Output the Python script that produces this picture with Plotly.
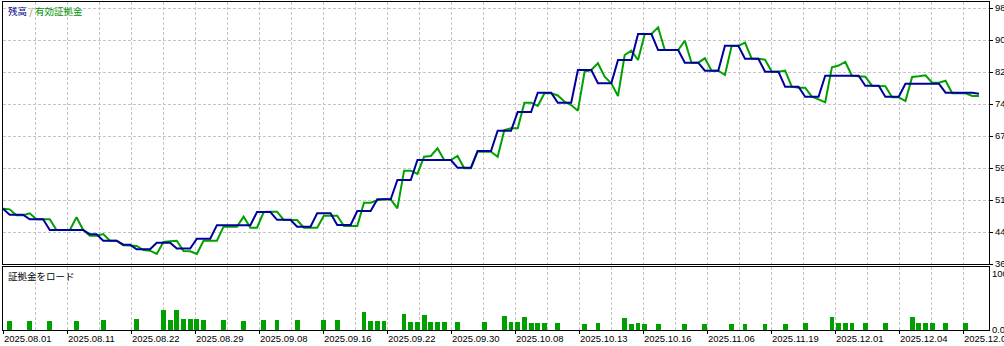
import plotly.graph_objects as go

# ---------------- data ----------------
balance = [
    4976, 4831, 4831, 4831, 4721, 4721, 4721, 4463, 4463, 4463,
    4463, 4463, 4463, 4360, 4360, 4206, 4206, 4206, 4110, 4110,
    3999, 3999, 3999, 4158, 4158, 4158, 4015, 4015, 4015, 4254,
    4254, 4254, 4580, 4580, 4580, 4580, 4580, 4580, 4896, 4896,
    4896, 4708, 4708, 4708, 4543, 4543, 4543, 4865, 4865, 4865,
    4583, 4583, 4583, 4920, 4920, 4920, 5202, 5202, 5202, 5666,
    5666, 5666, 6147, 6147, 6147, 6147, 6147, 6147, 5962, 5962,
    5962, 6364, 6364, 6364, 6853, 6853, 6853, 7302, 7302, 7302,
    7767, 7767, 7767, 7526, 7526, 7526, 8313, 8313, 8313, 7993,
    7993, 7993, 8554, 8554, 8554, 9179, 9179, 9179, 8794, 8794,
    8794, 8794, 8489, 8489, 8489, 8296, 8296, 8296, 8898, 8898,
    8898, 8585, 8585, 8585, 8272, 8272, 8272, 7911, 7911, 7911,
    7671, 7671, 7671, 8176, 8176, 8176, 8176, 8176, 8176, 7935,
    7935, 7935, 7671, 7671, 7671, 7983, 7983, 7983, 7983, 7983,
    7983, 7767, 7767, 7767, 7767, 7767, 7743,
]

equity = [
    4976, 4960, 4817, 4817, 4865, 4721, 4721, 4721, 4463, 4463,
    4463, 4769, 4463, 4326, 4326, 4367, 4206, 4206, 4095, 4090,
    4078, 3982, 3965, 3886, 4174, 4191, 4206, 3958, 3951, 3886,
    4206, 4206, 4206, 4543, 4543, 4543, 4783, 4518, 4518, 4896,
    4900, 4904, 4704, 4704, 4704, 4518, 4518, 4518, 4807, 4807,
    4807, 4559, 4559, 4559, 5120, 5120, 5180, 5202, 5202, 4985,
    5890, 5890, 5811, 6227, 6244, 6429, 6147, 6147, 6244, 5948,
    5948, 6347, 6347, 6347, 6227, 6869, 6910, 6910, 7526, 7526,
    7447, 7752, 7752, 7700, 7551, 7471, 7334, 8272, 8313, 8474,
    8152, 7993, 7688, 8674, 8778, 8554, 9179, 9179, 9340, 8794,
    8794, 8794, 9018, 8489, 8489, 8595, 8296, 8296, 8193, 8891,
    8891, 8970, 8585, 8585, 8560, 8272, 8272, 8296, 7911, 7887,
    7887, 7671, 7608, 7536, 8378, 8420, 8506, 8176, 8160, 8152,
    7935, 7935, 7920, 7656, 7656, 7567, 8145, 8160, 8186, 8007,
    8007, 8056, 7752, 7752, 7752, 7688, 7688,
]

load_idx = [1, 4, 7, 11, 15, 20, 24, 25, 26, 27, 28, 29, 30, 33, 36, 39, 41, 44,
            48, 50, 54, 55, 56, 57, 60, 61, 62, 63, 64, 65, 66, 68, 72, 75, 76,
            77, 78, 79, 80, 81, 83, 87, 89, 93, 94, 95, 96, 98, 102, 105, 109,
            111, 114, 117, 120, 124, 125, 126, 127, 129, 132, 136, 137, 138,
            139, 141, 144]
load_val = [16, 16, 16, 16, 17.5, 19.5, 35.5, 17.5, 35.5, 19.5, 19.5, 19.5, 17.5,
            17.5, 16, 17.5, 17.5, 17.5, 17.5, 17.5, 32, 16, 16, 16, 28.5, 14.5,
            14.5, 27, 14.5, 14.5, 14.5, 14.5, 14.5, 25, 14.5, 14.5, 23, 12.5,
            12.5, 12.5, 12.5, 10.5, 12.5, 21, 10.5, 12.5, 10.5, 10.5, 10.5, 10.5,
            10.5, 10.5, 10.5, 10.5, 12.5, 23, 12.5, 12.5, 12.5, 12.5, 12.5, 23,
            12.5, 12.5, 12.5, 12.5, 12.5]

y_tick_vals = [3645, 4415, 5185, 5955, 6725, 7495, 8265, 9035, 9805]
load_tick_vals = [0, 100]
load_tick_text = ["0.00", "100.00"]
date_labels = ["2025.08.01", "2025.08.11", "2025.08.22", "2025.08.29",
               "2025.09.08", "2025.09.16", "2025.09.22", "2025.09.30",
               "2025.10.08", "2025.10.13", "2025.10.16", "2025.11.06",
               "2025.11.19", "2025.12.01", "2025.12.04", "2025.12.08"]

# ---------------- layout geometry ----------------
W, H = 1004, 346
PX_LEFT, PX_RIGHT = 3, 989
MAIN_TOP, MAIN_BOT = 2, 264
SUB_TOP, SUB_BOT = 267, 330
X_MAX = 147.5
GRID_PX = 32
grid_step = X_MAX * GRID_PX / (PX_RIGHT - PX_LEFT)

BLUE = "#00009c"
GREEN = "#00a000"
GRID = "#c4c4c4"
FONT = "Liberation Sans"

idx = list(range(len(balance)))

fig = go.Figure()
fig.add_trace(go.Scatter(x=idx, y=equity, mode="lines",
                         line=dict(color=GREEN, width=2), xaxis="x", yaxis="y",
                         hoverinfo="skip"))
fig.add_trace(go.Scatter(x=idx, y=balance, mode="lines",
                         line=dict(color=BLUE, width=2), xaxis="x", yaxis="y",
                         hoverinfo="skip"))
fig.add_trace(go.Bar(x=load_idx, y=load_val, width=0.72,
                     marker=dict(color=GREEN, line=dict(width=0)),
                     xaxis="x2", yaxis="y2", hoverinfo="skip"))

label_pos = [i * 2 * grid_step for i in range(len(date_labels))]

axis_common = dict(showline=True, linecolor="black", linewidth=1, mirror=True,
                   zeroline=False, automargin=False)

fig.update_layout(
    width=W, height=H,
    margin=dict(l=0, r=0, t=0, b=0),
    paper_bgcolor="white", plot_bgcolor="white",
    showlegend=False,
    bargap=0,
    font=dict(family=FONT, size=9.5, color="black"),
    xaxis=dict(domain=[PX_LEFT / W, PX_RIGHT / W], range=[0, X_MAX],
               anchor="y", showticklabels=False, ticks="",
               tickmode="linear", tick0=0, dtick=grid_step,
               showgrid=True, gridcolor=GRID, griddash="3px,2px", gridwidth=1,
               **axis_common),
    yaxis=dict(domain=[(H - MAIN_BOT) / H, (H - MAIN_TOP) / H],
               range=[3645, 3645 + (MAIN_BOT - MAIN_TOP) * 770 / 32],
               anchor="x", side="right",
               tickmode="array", tickvals=y_tick_vals,
               ticktext=[str(v) for v in y_tick_vals],
               ticks="outside", ticklen=3, tickcolor="black",
               showgrid=True, gridcolor=GRID, griddash="3px,2px", gridwidth=1,
               tickfont=dict(family=FONT, size=9.5, color="black"),
               **axis_common),
    xaxis2=dict(domain=[PX_LEFT / W, PX_RIGHT / W], range=[0, X_MAX],
                anchor="y2", matches="x",
                tickmode="array", tickvals=label_pos, ticktext=date_labels,
                ticks="outside", ticklen=3, tickcolor="black",
                ticklabelposition="outside right", ticklabeloverflow="allow",
                tickfont=dict(family=FONT, size=9.5, color="black"),
                showgrid=True, gridcolor=GRID, griddash="3px,2px", gridwidth=1,
                minor=dict(tickmode="linear", tick0=0, dtick=grid_step,
                           showgrid=True, gridcolor=GRID, griddash="3px,2px",
                           gridwidth=1, ticks=""),
                **axis_common),
    yaxis2=dict(domain=[(H - SUB_BOT) / H, (H - SUB_TOP) / H],
                range=[0, 112], anchor="x2", side="right",
                tickmode="array", tickvals=load_tick_vals, ticktext=load_tick_text,
                ticks="", showgrid=False, ticklabeloverflow="allow",
                tickfont=dict(family=FONT, size=9.5, color="black"),
                **axis_common),
)

fig.add_annotation(
    xref="paper", yref="paper", x=6 / W, y=(H - 11) / H,
    xanchor="left", yanchor="middle", showarrow=False,
    text=("<span style='color:#00008c'>残高</span>"
          "<span style='color:#b07030'> / </span>"
          "<span style='color:#009000'>有効証拠金</span>"),
    font=dict(family="Noto Sans CJK JP", size=9.5),
)
fig.add_annotation(
    xref="paper", yref="paper", x=6 / W, y=(H - 276) / H,
    xanchor="left", yanchor="middle", showarrow=False,
    text="証拠金をロード",
    font=dict(family="Noto Sans CJK JP", size=9.5, color="black"),
)

fig.write_html("out.html")
